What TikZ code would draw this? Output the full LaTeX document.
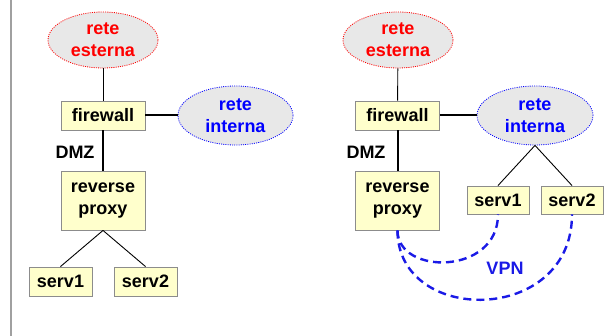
\documentclass[tikz,border=0pt]{standalone}
\usepackage{fontspec}
\setmainfont{Liberation Sans}
\usetikzlibrary{shapes.geometric}
\definecolor{boxfill}{HTML}{FFFFCC}
\definecolor{boxline}{HTML}{8C8C8C}
\definecolor{cloudfill}{HTML}{E8E8E8}
\definecolor{netred}{HTML}{FF0000}
\definecolor{netblue}{HTML}{0000FF}
\definecolor{vpnblue}{HTML}{1A1AE6}
\tikzset{
  lbl/.style={font=\fontsize{18}{21.6}\selectfont\bfseries},
  boxnode/.style={lbl, draw=boxline, line width=0.9pt, fill=boxfill, inner sep=0pt, align=center},
  cloud/.style={lbl, ellipse, fill=cloudfill, dash pattern=on 1pt off 1.2pt, line width=0.8pt, inner sep=0pt, align=center},
  thinline/.style={line width=0.9pt},
  thickline/.style={line width=2pt},
  vpn/.style={draw=vpnblue, line width=2.4pt, dash pattern=on 8pt off 5pt}
}
\begin{document}
\begin{tikzpicture}[x=1pt,y=-1pt]
\useasboundingbox (0,0) rectangle (611,336);
\draw[draw={rgb,255:red,160;green,160;blue,160}, line width=2pt] (10.5,0) -- (10.5,336);
% left diagram
\node[cloud, draw=netred, text=netred, minimum width=110pt, minimum height=56pt] (eL) at (103,40) {rete\\esterna};
\node[boxnode, minimum width=84pt, minimum height=29pt] (fL) at (103,115.5) {firewall};
\node[cloud, draw=netblue, text=netblue, minimum width=115pt, minimum height=59pt] (iL) at (235.5,115.5) {rete\\interna};
\node[lbl] (dL) at (75,152) {DMZ};
\node[boxnode, minimum width=84pt, minimum height=59pt] (pL) at (103,200.5) {reverse\\proxy};
\node[boxnode, minimum width=63pt, minimum height=29pt] (s1L) at (60.5,281.5) {serv1};
\node[boxnode, minimum width=63pt, minimum height=29pt] (s2L) at (145.5,281.5) {serv2};
\draw[thinline] (eL) -- (fL);
\draw[thickline] (fL) -- (iL);
\draw[thickline] (fL) -- (pL);
\draw[thinline] (pL.south) -- (s1L.north);
\draw[thinline] (pL.south) -- (s2L.north);
% right diagram
\node[cloud, draw=netred, text=netred, minimum width=110pt, minimum height=56pt] (eR) at (398,40) {rete\\esterna};
\node[boxnode, minimum width=84pt, minimum height=29pt] (fR) at (397.5,115.5) {firewall};
\node[cloud, draw=netblue, text=netblue, minimum width=116pt, minimum height=59pt] (iR) at (535,115.5) {rete\\interna};
\node[lbl] (dR) at (366,152) {DMZ};
\node[boxnode, minimum width=84pt, minimum height=59pt] (pR) at (397.5,200.5) {reverse\\proxy};
\node[boxnode, minimum width=62pt, minimum height=28pt] (s1R) at (498,200) {serv1};
\node[boxnode, minimum width=62pt, minimum height=28pt] (s2R) at (572,200) {serv2};
\node[lbl, text=vpnblue] (vpn) at (505,268) {VPN};
\draw[thinline] (eR) -- (fR);
\draw[thickline] (fR) -- (iR);
\draw[thickline] (fR) -- (pR);
\draw[thinline] (iR.south) -- (s1R.north);
\draw[thinline] (iR.south) -- (s2R.north);
\draw[vpn] (pR.south) .. controls +(0,45) and +(0,61) .. (s1R.south);
\draw[vpn] (pR.south) .. controls +(0,95) and +(0,111) .. (s2R.south);
\end{tikzpicture}
\end{document}
